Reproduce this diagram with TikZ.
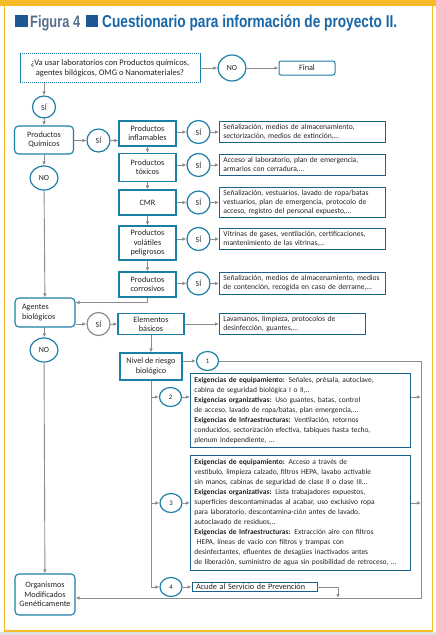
\documentclass[tikz,border=0pt]{standalone}
\usepackage{fontspec}
\usepackage{graphicx}
\setmainfont{Carlito}
\newfontfamily\headfont{Liberation Sans}
\usetikzlibrary{shapes.geometric, arrows.meta}

\definecolor{frameyellow}{RGB}{247,186,40}
\definecolor{boxteal}{RGB}{28,127,166}
\definecolor{textblue}{RGB}{26,98,140}
\definecolor{arrowgrey}{RGB}{140,140,140}
\definecolor{figgrey}{RGB}{88,112,140}
\definecolor{titleblue}{RGB}{24,102,168}
\definecolor{squareblue}{RGB}{30,88,148}
\definecolor{inkgrey}{RGB}{35,35,35}

\begin{document}
\begin{tikzpicture}[x=1pt, y=-1pt, >={Latex[length=4pt,width=3.6pt]},
    conn/.style={draw=arrowgrey, line width=0.9pt},
    answer/.style={ellipse, draw=boxteal, line width=1.2pt, fill=white, text=inkgrey, inner sep=0pt, minimum width=23pt, minimum height=23pt, font=\fontsize{7.8}{9}\selectfont},
    levelring/.style={answer, minimum width=22pt, minimum height=19pt, font=\fontsize{6.8}{8}\selectfont},
    stepbox/.style={rectangle, draw=boxteal, line width=1.2pt, fill=white, text=inkgrey, align=center, inner sep=1pt, minimum width=57pt, font=\fontsize{8.2}{9.3}\selectfont},
    roundbox/.style={stepbox, rounded corners=4pt, line width=1.1pt, minimum width=60pt},
    notebox/.style={rectangle, draw=textblue, line width=0.9pt, fill=white, text=inkgrey, align=left, anchor=west, inner xsep=4pt, inner ysep=3pt, font=\fontsize{7.6}{9}\selectfont},
    reqbox/.style={notebox, anchor=north west, text width=212pt, inner ysep=4pt, font=\fontsize{7.5}{10}\selectfont}
  ]
    % Frame
    \useasboundingbox (0,0) rectangle (436,635);
    \fill[frameyellow] (0,0) rectangle (436,6);
    \draw[frameyellow, line width=1.6pt] (4.5,0) -- (4.5,631) -- (432.5,631) -- (432.5,0);
    \fill[black!12] (0,632.4) rectangle (436,635);

    % Title
    \fill[squareblue] (15,15) rectangle (28,27);
    \node[anchor=base west, inner sep=0pt, text=figgrey] (figlabel) at (30,27) {\resizebox{50pt}{12pt}{\headfont\bfseries Figura 4}};
    \fill[squareblue] (86,15) rectangle (98,27);
    \node[anchor=base west, inner sep=0pt, text=titleblue] (figtitle) at (102,27) {\resizebox{295pt}{12.6pt}{\headfont\bfseries Cuestionario para información de proyecto II.}};

    % Question and first answers
    \node[stepbox, line width=0.7pt, dash pattern=on 1.2pt off 0.8pt, minimum width=180pt, minimum height=29pt, font=\fontsize{8.5}{10}\selectfont] (q) at (110,68) {¿Va usar laboratorios con Productos químicos,\\agentes bilógicos, OMG o Nanomateriales?};
    \node[answer, minimum width=28pt, minimum height=26pt] (no1) at (232,68) {NO};
    \node[stepbox, rounded corners=2pt, line width=1pt, minimum width=56pt, minimum height=14pt] (fin) at (307,68) {Final};
    \node[answer, minimum height=22pt] (si1) at (44,107) {SÍ};

    % Left column
    \node[roundbox, minimum width=59pt, minimum height=28pt] (pq) at (44,140) {Productos\\Químicos};
    \node[answer] (si2) at (98.5,140.5) {SÍ};
    \node[answer, minimum width=28pt, minimum height=24pt] (no2) at (44,178) {NO};
    \node[roundbox, align=left, text width=46pt, inner xsep=7pt, minimum height=29pt] (ag) at (45,312.5) {Agentes\\biológicos};
    \node[answer, minimum width=28pt, minimum height=24pt] (no3) at (44,350) {NO};
    \node[roundbox, minimum height=41pt] (omg) at (45,594.5) {Organismos\\Modificados\\Genéticamente};

    % Chemical products
    \node[stepbox, minimum height=25pt] (pinf) at (147.5,133.5) {Productos\\inflamables};
    \node[stepbox, minimum height=28pt] (ptox) at (147.5,167.5) {Productos\\tóxicos};
    \node[stepbox, minimum height=25pt] (cmr) at (147.5,202.5) {CMR};
    \node[stepbox, minimum height=34pt] (pvol) at (147.5,243) {Productos\\volátiles\\peligrosos};
    \node[stepbox, minimum height=25pt] (pcor) at (147.5,284.5) {Productos\\corrosivos};

    \node[answer] (s1) at (198.5,132) {SÍ};
    \node[answer] (s2) at (198.5,165) {SÍ};
    \node[answer] (s3) at (198.5,202.5) {SÍ};
    \node[answer] (s4) at (198.5,239) {SÍ};
    \node[answer] (s5) at (198.5,283.5) {SÍ};

    \node[notebox, text width=158pt] (t1) at (219,132) {Señalización, medios de almacenamiento,\\sectorización, medios de extinción,…};
    \node[notebox, text width=158pt] (t2) at (219,165) {Acceso al laboratorio, plan de emergencia,\\armarios con cerradura,…};
    \node[notebox, text width=158pt] (t3) at (219,202.5) {Señalización, vestuarios, lavado de ropa/batas\\vestuarios, plan de emergencia, protocolo de\\acceso, registro del personal expuesto,…};
    \node[notebox, text width=158pt] (t4) at (219,239) {Vitrinas de gases, ventilación, certificaciones,\\mantenimiento de las vitrinas,…};
    \node[notebox, text width=158pt] (t5) at (219,283.5) {Señalización, medios de almacenamiento, medios\\de contención, recogida en caso de derrame,…};

    % Biological agents
    \node[answer, draw=arrowgrey] (s6) at (98.5,324) {SÍ};
    \node[stepbox, minimum width=66pt, minimum height=21pt] (eb) at (151,324) {Elementos\\básicos};
    \node[notebox, text width=138pt] (t6) at (219,324) {Lavamanos, limpieza, protocolos de\\desinfección, guantes,…};
    \node[stepbox, minimum width=62pt, minimum height=27pt] (nr) at (151,366.5) {Nivel de riesgo\\biológico};

    % Risk levels
    \node[levelring] (n1) at (207.5,361) {1};
    \node[levelring] (n2) at (170.5,397) {2};
    \node[levelring] (n3) at (171,503) {3};
    \node[levelring] (n4) at (171,587) {4};

    \node[reqbox] (e2) at (190,373) {\textbf{Exigencias de equipamiento:} Señales, présala, autoclave,\\cabina de seguridad biológica I o II,..\\\textbf{Exigencias organizativas:} Uso guantes, batas, control\\de acceso, lavado de ropa/batas, plan emergencia,...\\\textbf{Exigencias de Infraestructuras:} Ventilación, retornos\\conducidos, sectorización efectiva, tabiques hasta techo,\\plenum independiente, ...};
    \node[reqbox] (e3) at (190,455) {\textbf{Exigencias de equipamiento:} Acceso a través de\\vestíbulo, limpieza calzado, filtros HEPA, lavabo activable\\sin manos, cabinas de seguridad de clase II o clase III…\\\textbf{Exigencias organizativas:} Lista trabajadores expuestos,\\superficies descontaminadas al acabar, uso exclusivo ropa\\para laboratorio, descontamina-ción antes de lavado,\\autoclavado de residuos,..\\\textbf{Exigencias de Infraestructuras:} Extracción aire con filtros\\\ HEPA, líneas de vacío con filtros y trampas con\\desinfectantes, efluentes de desagües inactivados antes\\de liberación, suministro de agua sin posibilidad de retroceso, ...};
    \node[notebox, anchor=center, text width=117pt, inner ysep=1.5pt, font=\fontsize{8.2}{9}\selectfont] (sp) at (254.5,587) {Acude al Servicio de Prevención};

    \coordinate (rtop) at (421,361);
    \coordinate (rbot) at (421,598);
    \coordinate (spd) at (338,598);

    % Connectors, top
    \draw[conn, ->] (q) -- (no1);
    \draw[conn, ->] (no1) -- (fin);
    \draw[conn, ->] (si1 |- q.south) -- (si1);
    \draw[conn, ->] (si1) -- (pq);
    \draw[conn, ->] (pq) -- (no2);
    \draw[conn, ->] (no2) -- (ag);
    \draw[conn, ->] (ag) -- (no3);
    \draw[conn, ->] (no3) -- (omg);

    % Connectors, chemical products
    \draw[conn, ->] (pq.east |- si2) -- (si2);
    \draw[conn, ->] (si2) -- (si2 -| pinf.west);
    \draw[conn, ->] (pinf) -- (ptox);
    \draw[conn, ->] (ptox) -- (cmr);
    \draw[conn, ->] (cmr) -- (pvol);
    \draw[conn, ->] (pvol) -- (pcor);
    \draw[conn, ->] (pinf.east |- s1) -- (s1);
    \draw[conn, ->] (ptox.east |- s2) -- (s2);
    \draw[conn, ->] (cmr.east |- s3) -- (s3);
    \draw[conn, ->] (pvol.east |- s4) -- (s4);
    \draw[conn, ->] (pcor.east |- s5) -- (s5);
    \draw[conn, ->] (s1) -- (t1);
    \draw[conn, ->] (s2) -- (t2);
    \draw[conn, ->] (s3) -- (t3);
    \draw[conn, ->] (s4) -- (t4);
    \draw[conn, ->] (s5) -- (t5);
    \draw[conn, ->] (pcor.south) |- ([yshift=-5pt]ag.north east);

    % Connectors, biological agents
    \draw[conn, ->] (ag.east |- s6) -- (s6);
    \draw[conn, ->] (s6) -- (eb);
    \draw[conn, ->] (eb) -- (t6);
    \draw[conn, ->] (eb) -- (nr);
    \draw[conn, ->] (nr.east |- n1) -- (n1);
    \draw[conn, ->] (n1) -- (rtop) -- (rbot) -- (omg.east |- rbot);
    \draw[conn, ->] (nr.south) |- (n4);
    \draw[conn, ->] (nr.south |- n2) -- (n2);
    \draw[conn, ->] (nr.south |- n3) -- (n3);
    \draw[conn, ->] (n2) -- (n2 -| e2.west);
    \draw[conn, ->] (n3) -- (n3 -| e3.west);
    \draw[conn, ->] (n4) -- (sp);
    \draw[conn, ->] (e2.east |- n2) -- (rtop |- n2);
    \draw[conn, ->] (e3.east |- n3) -- (rtop |- n3);
    \draw[conn, ->] (sp.east) -| (spd);
\end{tikzpicture}
\end{document}
